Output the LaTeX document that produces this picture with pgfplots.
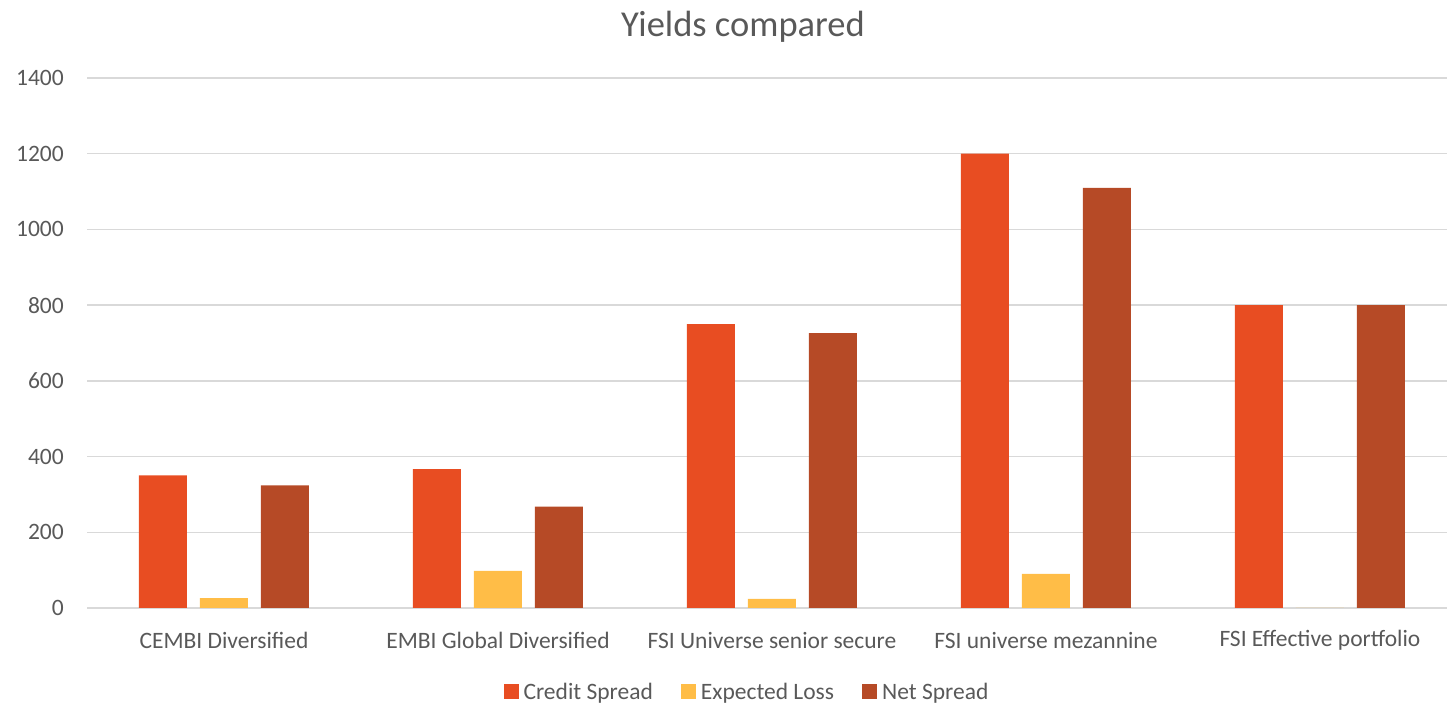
\documentclass[border=0pt]{standalone}
\usepackage{fontspec}
\setmainfont{Carlito}
\usepackage{pgfplots}
\pgfplotsset{compat=1.18}
\definecolor{cs}{RGB}{232,77,34}
\definecolor{el}{RGB}{255,189,71}
\definecolor{ns}{RGB}{182,74,38}
\definecolor{txt}{RGB}{89,89,89}
\definecolor{gr}{RGB}{217,217,217}
\begin{document}
\begin{tikzpicture}
\useasboundingbox (0,0) rectangle (1447pt,703pt);
\begin{axis}[
  at={(87pt,95pt)}, anchor=south west,
  scale only axis, width=1370pt, height=530pt,
  ybar=13pt, bar width=48pt,
  xmin=-0.5, xmax=4.5, ymin=0, ymax=1400,
  ytick={0,200,...,1400},
  xtick=data,
  xticklabels={CEMBI Diversified, EMBI Global Diversified, FSI Universe senior secure, FSI universe mezannine, FSI Effective portfolio},
  axis line style={draw=none},
  major tick style={draw=none},
  ymajorgrids, grid style={gr, line width=1.4pt},
  /pgf/number format/assume math mode=true,
  /pgf/number format/1000 sep={},
  tick label style={font=\fontsize{23.5}{28}\selectfont, text=txt, inner sep=0pt},
  yticklabel style={anchor=east, xshift=-23pt},
  xticklabel style={anchor=center, yshift=-28pt},
  title={Yields compared},
  title style={at={(0.5,1)}, anchor=center, yshift=45pt, xshift=-29pt, font=\fontsize{36.5}{42}\selectfont, text=txt},
  legend columns=3,
  legend style={at={(0.5,0)}, anchor=center, yshift=-84pt, xshift=-25pt, draw=none, fill=none,
    font=\fontsize{23.5}{28}\selectfont, text=txt,
    /tikz/every odd column/.append style={column sep=3pt},
    /tikz/every even column/.append style={column sep=26pt}},
  legend image code/.code={\fill[#1] (0pt,-7.5pt) rectangle (15pt,7.5pt);},
  clip=false,
]
\addplot[fill=cs, draw=none] coordinates {(0,350) (1,367) (2,750) (3,1200) (4,800)};
\addplot[fill=el, draw=none] coordinates {(0,26) (1,98) (2,24) (3,90) (4,0)};
\addplot[fill=ns, draw=none] coordinates {(0,324) (1,268) (2,726) (3,1110) (4,800)};
\legend{Credit Spread, Expected Loss, Net Spread}
\end{axis}
\end{tikzpicture}
\end{document}
